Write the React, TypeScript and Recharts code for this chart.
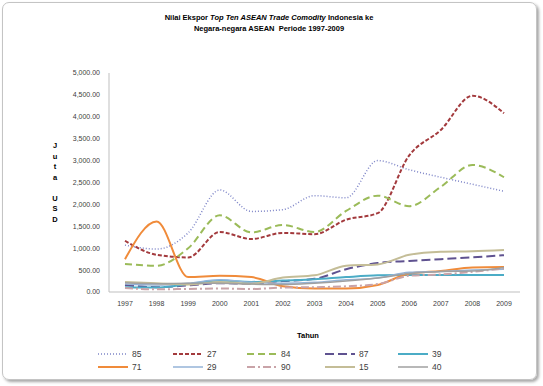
import React from 'react';
import { ComposedChart, Line, XAxis, YAxis } from 'recharts';

const years = ['1997', '1998', '1999', '2000', '2001', '2002', '2003', '2004', '2005', '2006', '2007', '2008', '2009'];

const s85 = [1070, 980, 1350, 2330, 1840, 1880, 2200, 2150, 3000, 2790, 2620, 2460, 2300];
const s27 = [1170, 850, 790, 1370, 1210, 1350, 1320, 1650, 1800, 3120, 3700, 4480, 4080];
const s84 = [640, 600, 1000, 1750, 1360, 1530, 1370, 1850, 2200, 1960, 2400, 2900, 2620];
const s87 = [160, 110, 150, 200, 190, 250, 300, 520, 660, 710, 750, 790, 840];
const s39 = [110, 100, 180, 260, 230, 260, 290, 340, 380, 390, 390, 390, 390];
const s71 = [750, 1610, 340, 370, 340, 130, 80, 80, 160, 420, 480, 560, 570];
const s29 = [180, 160, 200, 280, 220, 200, 220, 280, 320, 450, 470, 500, 520];
const s90 = [90, 60, 70, 80, 70, 100, 110, 130, 180, 370, 400, 460, 540];
const s15 = [230, 200, 170, 230, 190, 330, 380, 600, 630, 850, 920, 930, 960];
const s40 = [210, 190, 200, 200, 180, 170, 200, 250, 320, 420, 470, 480, 560];

const yTicks = [0, 500, 1000, 1500, 2000, 2500, 3000, 3500, 4000, 4500, 5000];

// series styles, legend order
const series = [
  { key: '85', values: s85, color: '#7F86C8', dash: '1 2', width: 1.5 },
  { key: '27', values: s27, color: '#A33A3D', dash: '4 2', width: 2 },
  { key: '84', values: s84, color: '#9BBB59', dash: '7 4', width: 2 },
  { key: '87', values: s87, color: '#5F5290', dash: '9 4', width: 2 },
  { key: '39', values: s39, color: '#4BACC6', dash: undefined, width: 2 },
  { key: '71', values: s71, color: '#F08B3A', dash: undefined, width: 2 },
  { key: '29', values: s29, color: '#95B3D7', dash: undefined, width: 1.5 },
  { key: '90', values: s90, color: '#C9A3A8', dash: '8 3 2 3', width: 2 },
  { key: '15', values: s15, color: '#C4BD97', dash: undefined, width: 2 },
  { key: '40', values: s40, color: '#A0A0A0', dash: undefined, width: 1.5 },
];

const data = years.map((year, i) => {
  const row: Record<string, number | string> = { year };
  series.forEach((s) => { row['s' + s.key] = s.values[i]; });
  return row;
});

const font = '"Liberation Sans", Arial, sans-serif';
const fmt = (v: number) => v.toLocaleString('en-US', { minimumFractionDigits: 2, maximumFractionDigits: 2 });

const yLetters = ['J', 'u', 't', 'a', '', 'U', 'S', 'D'];
const legendCols = [98, 173, 247, 325, 398];
const legendRows = [354, 367];

export default function App() {
  return (
    <div style={{ position: 'absolute', left: 0, top: 0, width: 543, height: 386, background: '#fff', fontFamily: font }}>
      <div style={{ position: 'absolute', left: 2, top: 2, width: 533, height: 376, border: '1px solid #c4c4c4', borderRadius: 7, boxShadow: '2px 2px 3px rgba(0,0,0,0.35)' }} />
      <div style={{ position: 'absolute', left: 0, top: 12, width: 538, textAlign: 'center', fontSize: 7.5, fontWeight: 'bold', lineHeight: '11px', color: '#000' }}>
        <div>Nilai Ekspor <i>Top Ten ASEAN Trade Comodity</i> Indonesia ke</div>
        <div>Negara-negara ASEAN&nbsp; Periode 1997-2009</div>
      </div>
      {yLetters.map((ch, i) => (
        <div key={i} style={{ position: 'absolute', left: 50, top: 141 + i * 10.5, width: 10, textAlign: 'center', fontSize: 7.5, fontWeight: 'bold', lineHeight: '10px' }}>{ch}</div>
      ))}
      <div style={{ position: 'absolute', left: 288, top: 331, width: 40, textAlign: 'center', fontSize: 7.5, fontWeight: 'bold' }}>Tahun</div>
      <ComposedChart width={543} height={386} data={data} margin={{ top: 73, right: 23, left: 49, bottom: 64 }} style={{ position: 'absolute', left: 0, top: 0 }}>
        <XAxis dataKey="year" height={30} tickLine={false} axisLine={{ stroke: '#BFBFBF' }} tickMargin={3} interval={0}
          padding={{ left: 16, right: 16 }} tick={{ fontSize: 7, fill: '#404040', fontFamily: font }} />
        <YAxis width={60} domain={[0, 5000]} ticks={yTicks} tickLine={false} axisLine={{ stroke: '#BFBFBF' }} tickMargin={3}
          tickFormatter={fmt} tick={{ fontSize: 7, fill: '#404040', fontFamily: font }} />
        {series.map((s) => (
          <Line key={s.key} dataKey={'s' + s.key} type="monotone" stroke={s.color} strokeWidth={s.width}
            strokeDasharray={s.dash} dot={false} activeDot={false} isAnimationActive={false} />
        ))}
      </ComposedChart>
      {series.map((s, i) => {
        const x = legendCols[i % 5];
        const y = legendRows[Math.floor(i / 5)];
        return (
          <div key={s.key} style={{ position: 'absolute', left: x, top: y - 6, height: 12, display: 'flex', alignItems: 'center' }}>
            <svg width={30} height={4}>
              <line x1={0} y1={2} x2={30} y2={2} stroke={s.color} strokeWidth={s.width} strokeDasharray={s.dash} />
            </svg>
            <span style={{ marginLeft: 4, fontSize: 8.5, color: '#404040' }}>{s.key}</span>
          </div>
        );
      })}
    </div>
  );
}
